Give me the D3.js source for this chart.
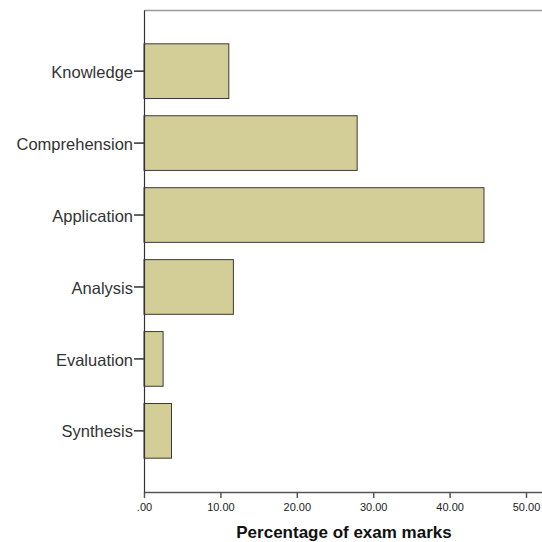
<!DOCTYPE html>
<html>
<head>
<meta charset="utf-8">
<script src="https://cdn.jsdelivr.net/npm/d3@7"></script>
<style>
  body { margin: 0; background: #fff; }
  text { font-family: "Liberation Sans", Arial, sans-serif; }
</style>
</head>
<body>
<div id="chart"></div>
<script>
const categories = ['Knowledge', 'Comprehension', 'Application', 'Analysis', 'Evaluation', 'Synthesis'];
const values = [11.1, 27.9, 44.5, 11.7, 2.5, 3.6];
const xTicks = [0, 10, 20, 30, 40, 50];
const xTitle = 'Percentage of exam marks';

const width = 542, height = 542;
const margin = { top: 10, left: 144, bottom: 50 };

const svg = d3.select('#chart')
  .append('svg')
  .attr('width', width)
  .attr('height', height);

const x = d3.scaleLinear()
  .domain([0, 50])
  .range([margin.left, 526]);

const y = d3.scaleBand()
  .domain(categories)
  .range([margin.top, height - margin.bottom])
  .paddingInner(0.24)
  .paddingOuter(0.47);

// frame top line (extends past the right edge)
svg.append('line')
  .attr('x1', margin.left).attr('x2', width + 10)
  .attr('y1', margin.top + 0.5).attr('y2', margin.top + 0.5)
  .style('stroke', '#999').style('stroke-width', 1.5);

// bars
svg.append('g')
  .selectAll('rect')
  .data(values)
  .enter()
  .append('rect')
  .attr('x', x(0))
  .attr('y', (d, i) => y(categories[i]))
  .attr('width', (d) => x(d) - x(0))
  .attr('height', y.bandwidth())
  .style('fill', '#d3ce97')
  .style('stroke', '#3a3a3a')
  .style('stroke-width', 1);

// x axis
const xAxis = svg.append('g')
  .attr('transform', `translate(0,${height - margin.bottom})`)
  .call(d3.axisBottom(x)
    .tickValues(xTicks)
    .tickSize(6)
    .tickSizeOuter(0)
    .tickFormat((d) => d === 0 ? '.00' : d3.format('.2f')(d)));
xAxis.select('.domain').attr('d', `M${x(0)},0.5H${width + 10}`).style('stroke', '#555').style('stroke-width', 1.5);
xAxis.selectAll('.tick line').style('stroke', '#555').style('stroke-width', 1.5);
xAxis.selectAll('.tick text')
  .attr('dy', '0.9em')
  .style('font-size', '11px')
  .style('fill', '#222')
  .style('font-family', '"Liberation Sans", Arial, sans-serif');

// y axis
const yAxis = svg.append('g')
  .attr('transform', `translate(${margin.left},0)`)
  .call(d3.axisLeft(y).tickSize(10).tickSizeOuter(0).tickPadding(1));
yAxis.select('.domain').style('stroke', '#333').style('stroke-width', 1.2);
yAxis.selectAll('.tick line').style('stroke', '#333').style('stroke-width', 1.5);
yAxis.selectAll('.tick text')
  .attr('dy', '0.4em')
  .style('font-size', '16.5px')
  .style('fill', '#333')
  .style('font-family', '"Liberation Sans", Arial, sans-serif');

// axis title
svg.append('text')
  .attr('x', 344)
  .attr('y', 538)
  .attr('text-anchor', 'middle')
  .style('font-size', '17px')
  .style('font-weight', 'bold')
  .style('fill', '#111')
  .text(xTitle);
</script>
</body>
</html>
